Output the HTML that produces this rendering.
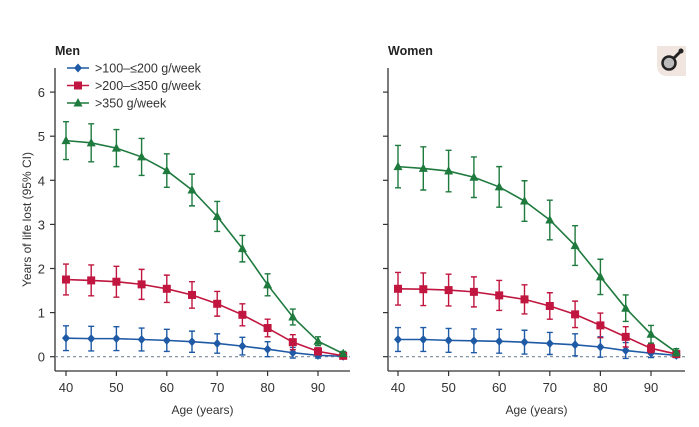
<!DOCTYPE html>
<html><head><meta charset="utf-8"><style>
html,body{margin:0;padding:0;background:#fff;}
svg{display:block;font-family:"Liberation Sans",sans-serif;}
</style></head><body>
<svg id="chart" width="699" height="427" viewBox="0 0 699 427" xmlns="http://www.w3.org/2000/svg">
<g id="icon">
<path d="M657,46 H686 V76 H668 Q657,76 657,65 Z" fill="#f0e6df"/>
<circle cx="669" cy="63" r="6.5" fill="#bbb" stroke="#222" stroke-width="2.5"/>
<line x1="674" y1="58" x2="680" y2="52" stroke="#222" stroke-width="3"/>
<circle cx="681" cy="51" r="2.5" fill="#222"/>
</g>
</svg>
<script>
const ages=[40,45,50,55,60,65,70,75,80,85,90,95];
const yTicks=[0,1,2,3,4,5,6];
const xTicks=[40,50,60,70,80,90];
const seriesNames=[">100–≤200 g/week",">200–≤350 g/week",">350 g/week"];
const menBlue=[0.42,0.41,0.41,0.39,0.37,0.34,0.30,0.24,0.17,0.09,0.03,0.01];
const menBlueCI=[0.28,0.28,0.27,0.26,0.25,0.24,0.22,0.2,0.17,0.12,0.06,0.03];
const menRed=[1.75,1.73,1.70,1.64,1.54,1.40,1.20,0.95,0.65,0.33,0.12,0.02];
const menRedCI=[0.35,0.35,0.35,0.34,0.31,0.3,0.28,0.25,0.2,0.17,0.08,0.03];
const menGreen=[4.90,4.85,4.73,4.53,4.22,3.78,3.18,2.45,1.63,0.90,0.35,0.07];
const menGreenCI=[0.43,0.43,0.42,0.42,0.38,0.36,0.34,0.3,0.25,0.18,0.1,0.05];
const womenBlue=[0.39,0.39,0.37,0.36,0.35,0.33,0.30,0.27,0.22,0.14,0.08,0.03];
const womenBlueCI=[0.27,0.27,0.27,0.27,0.27,0.27,0.25,0.25,0.23,0.18,0.1,0.05];
const womenRed=[1.54,1.53,1.51,1.47,1.39,1.30,1.15,0.96,0.71,0.45,0.19,0.06];
const womenRedCI=[0.37,0.37,0.36,0.34,0.34,0.33,0.3,0.3,0.28,0.23,0.1,0.05];
const womenGreen=[4.31,4.27,4.21,4.07,3.85,3.53,3.10,2.52,1.81,1.10,0.51,0.10];
const womenGreenCI=[0.48,0.49,0.47,0.46,0.46,0.46,0.45,0.45,0.4,0.3,0.2,0.08];
const colors=["#1f5aa6","#c0163f","#1f7a3e"];
const NS="http://www.w3.org/2000/svg";
const svg=document.getElementById('chart');
function mk(tag,attrs,parent){const e=document.createElementNS(NS,tag);for(const k in attrs)e.setAttribute(k,attrs[k]);(parent||svg).appendChild(e);return e;}
function marker(g,shape,x,y,c){
 if(shape==0)return mk('polygon',{points:`${x},${y-4.5} ${x+4},${y} ${x},${y+4.5} ${x-4},${y}`,fill:c},g);
 if(shape==1)return mk('rect',{x:x-4,y:y-4,width:8,height:8,fill:c},g);
 return mk('polygon',{points:`${x},${y-5} ${x+4.5},${y+3.5} ${x-4.5},${y+3.5}`,fill:c},g);
}
function panel(name,title,axX,x40,x90,axEnd,data,showY,legend){
 const y0=356.7,yUnit=44.1;
 const sx=a=>x40+(a-40)*(x90-x40)/50;
 const sy=v=>y0-v*yUnit;
 const g=mk('g',{});
 
 
 const t=mk('text',{x:axX,y:55,'font-size':12.5,'font-weight':'bold',fill:'#222'},g);t.textContent=title;
 
 const ya=mk('line',{x1:axX,y1:68,x2:axX,y2:371,stroke:'#333','stroke-width':1.3},g);
 
 const xa=mk('line',{x1:axX,y1:371,x2:axEnd,y2:371,stroke:'#333','stroke-width':1.3},g);
 
 const zl=mk('line',{x1:axX,y1:sy(0),x2:axEnd,y2:sy(0),stroke:'#7a8a9a','stroke-width':1.2,'stroke-dasharray':'3,3'},g);
 
 yTicks.forEach(v=>{
  mk('line',{x1:axX-5,y1:sy(v),x2:axX,y2:sy(v),stroke:'#333','stroke-width':1.2},g);
  if(showY){const tl=mk('text',{x:axX-10,y:sy(v)+5,'font-size':13,'text-anchor':'end',fill:'#333'},g);tl.textContent=v;
  }
 });
 xTicks.forEach(a=>{
  mk('line',{x1:sx(a),y1:371,x2:sx(a),y2:376,stroke:'#333','stroke-width':1.2},g);
  const tl=mk('text',{x:sx(a),y:392,'font-size':13,'text-anchor':'middle',fill:'#333'},g);tl.textContent=a;
  
 });
 const xt=mk('text',{x:(axX+axEnd)/2,y:414,'font-size':12,'text-anchor':'middle',fill:'#333'},g);xt.textContent='Age (years)';
 
 if(showY){const yt=mk('text',{x:0,y:0,'font-size':12,'text-anchor':'middle',fill:'#333',transform:`translate(31,${(68+371)/2}) rotate(-90)`},g);yt.textContent='Years of life lost (95% CI)';
 }
 data.forEach((s,i)=>{
  const sg=mk('g',{},g);
  
  const c=colors[i];
  let d='';s.v.forEach((v,j)=>{d+=(j?'L':'M')+sx(ages[j])+','+sy(v);});
  mk('path',{d:d,fill:'none',stroke:c,'stroke-width':1.6},sg);
  s.v.forEach((v,j)=>{
   const x=sx(ages[j]),lo=sy(v-s.ci[j]),hi=sy(v+s.ci[j]);
   const eb=mk('path',{d:`M${x},${lo}V${hi}M${x-3},${lo}H${x+3}M${x-3},${hi}H${x+3}`,stroke:c,'stroke-width':1.4,fill:'none'},sg);
   
   const m=marker(sg,i,x,sy(v),c);
   
  });
 });
 if(legend){
  seriesNames.forEach((n,i)=>{
   const lg=mk('g',{},g);
   
   const y=68+i*17.5;
   mk('line',{x1:67,y1:y,x2:89,y2:y,stroke:colors[i],'stroke-width':1.6},lg);
   marker(lg,i,78,y,colors[i]);
   const lt=mk('text',{x:95,y:y+4.5,'font-size':12.5,fill:'#333'},lg);lt.textContent=n;
  });
 }
}
panel('men','Men',55,66,318,350,[{v:menBlue,ci:menBlueCI},{v:menRed,ci:menRedCI},{v:menGreen,ci:menGreenCI}],true,true);
panel('women','Women',388,398,651,685,[{v:womenBlue,ci:womenBlueCI},{v:womenRed,ci:womenRedCI},{v:womenGreen,ci:womenGreenCI}],false,false);
</script>
</body></html>
